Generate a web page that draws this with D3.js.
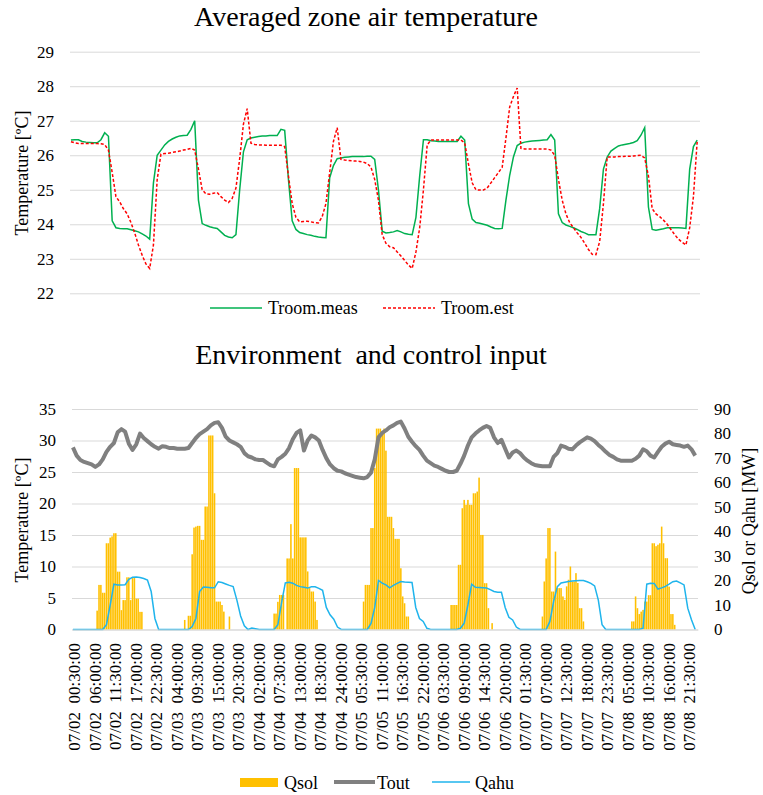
<!DOCTYPE html>
<html><head><meta charset="utf-8">
<script src="https://cdn.jsdelivr.net/npm/d3@7"></script>
<style>
body{margin:0;background:#fff}
svg text{font-family:"Liberation Serif","Times New Roman",Times,"DejaVu Serif",serif;fill:#000}
</style>
</head><body>
<svg id="c" width="763" height="795"></svg>
<script>
// ---------- DATA ----------
// category axis: 30-min steps from 07/02 00:30 to 07/08 24:00 (336 categories); labels every 11th
const tickLabels = ["07/02  00:30:00","07/02  06:00:00","07/02  11:30:00","07/02  17:00:00","07/02  22:30:00",
"07/03  04:00:00","07/03  09:30:00","07/03  15:00:00","07/03  20:30:00","07/04  02:00:00","07/04  07:30:00",
"07/04  13:00:00","07/04  18:30:00","07/04  24:00:00","07/05  05:30:00","07/05  11:00:00","07/05  16:30:00",
"07/05  22:00:00","07/06  03:30:00","07/06  09:00:00","07/06  14:30:00","07/06  20:00:00","07/07  01:30:00",
"07/07  07:00:00","07/07  12:30:00","07/07  18:00:00","07/07  23:30:00","07/08  05:00:00","07/08  10:30:00",
"07/08  16:00:00","07/08  21:30:00"];
const nCategories = 336;

// hourly readings (one value every 2nd category)
const troomMeas = [
26.44,26.45,26.45,26.40,26.38,26.37,26.36,26.36,26.45,26.65,26.55,24.10,23.90,23.88,23.87,23.87,23.84,23.81,23.78,23.72,23.66,23.57,25.20,26.00,
26.15,26.30,26.40,26.47,26.52,26.56,26.57,26.58,26.75,27.00,24.70,24.02,23.97,23.93,23.90,23.88,23.78,23.68,23.63,23.61,23.70,25.00,26.10,26.45,
26.50,26.52,26.54,26.56,26.56,26.57,26.57,26.57,26.75,26.72,25.30,24.10,23.85,23.76,23.73,23.70,23.68,23.65,23.63,23.62,23.61,25.35,25.70,25.90,
25.92,25.94,25.95,25.96,25.96,25.96,25.96,25.97,25.97,25.88,25.00,23.80,23.75,23.76,23.78,23.82,23.78,23.73,23.71,23.70,24.20,25.40,26.45,26.45,
26.42,26.41,26.40,26.40,26.40,26.40,26.40,26.40,26.55,26.44,24.60,24.15,24.05,24.03,24.00,23.97,23.92,23.88,23.87,23.88,24.70,25.42,25.95,26.28,
26.35,26.38,26.40,26.41,26.42,26.43,26.44,26.45,26.60,26.44,24.30,24.05,23.98,23.94,23.90,23.85,23.79,23.75,23.70,23.70,23.70,24.46,25.60,25.95,
26.12,26.20,26.27,26.30,26.32,26.34,26.37,26.42,26.58,26.80,24.50,23.85,23.83,23.85,23.87,23.90,23.90,23.90,23.90,23.89,23.88,25.60,26.25,26.44];
const troomEst = [
26.39,26.36,26.34,26.34,26.34,26.34,26.34,26.34,26.33,26.31,26.15,25.50,24.80,24.65,24.45,24.30,24.05,23.75,23.40,23.10,22.85,22.72,23.40,25.30,
26.03,26.05,26.06,26.08,26.10,26.12,26.15,26.17,26.20,26.15,25.60,25.00,24.88,24.87,24.90,24.92,24.80,24.70,24.63,24.75,25.05,25.90,26.90,27.35,
26.35,26.31,26.30,26.30,26.29,26.29,26.29,26.29,26.29,26.25,25.40,24.60,24.20,24.07,24.08,24.09,24.07,24.05,24.04,24.22,24.60,25.50,26.40,26.80,
25.88,25.86,25.85,25.84,25.83,25.82,25.80,25.76,25.66,25.30,24.70,23.70,23.45,23.35,23.32,23.20,23.08,22.95,22.82,22.72,23.20,23.90,25.00,26.30,
26.44,26.44,26.44,26.44,26.44,26.44,26.44,26.44,26.44,26.36,25.75,25.20,25.00,24.99,24.99,25.05,25.20,25.35,25.50,25.65,26.50,27.40,27.70,27.95,
26.20,26.18,26.18,26.18,26.18,26.18,26.18,26.18,26.15,26.00,25.30,24.70,24.30,24.05,23.90,23.75,23.62,23.45,23.27,23.13,23.12,23.50,24.60,25.95,
25.95,25.95,25.96,25.96,25.97,25.97,25.98,25.99,26.00,25.92,25.40,24.45,24.30,24.22,24.12,24.00,23.85,23.70,23.57,23.48,23.40,23.90,24.80,26.40];
const tout = [
28.9,27.6,26.9,26.6,26.4,26.2,25.8,26.2,27.0,28.2,29.0,29.6,31.3,31.8,31.4,29.5,28.5,29.4,31.1,30.4,29.9,29.4,29.0,28.7,
29.1,29.0,28.8,28.8,28.7,28.7,28.7,28.8,29.6,30.4,31.0,31.4,31.8,32.4,32.8,32.9,32.0,30.6,30.0,29.7,29.4,29.0,28.0,27.5,
27.3,27.0,26.9,26.9,26.5,26.1,25.9,27.0,27.4,27.9,28.8,30.2,31.2,31.6,28.4,30.0,30.8,30.5,30.0,28.5,27.2,26.2,25.6,25.2,
25.1,24.8,24.6,24.4,24.2,24.1,24.0,24.2,24.9,27.0,30.5,31.2,31.6,32.1,32.4,32.8,33.0,31.9,30.6,29.8,29.1,28.5,27.6,26.8,
26.4,26.0,25.8,25.5,25.2,25.0,25.0,25.2,26.3,27.6,29.2,30.5,31.1,31.6,32.0,32.3,32.0,30.5,29.6,30.1,28.7,27.3,28.1,28.4,
28.0,27.3,26.8,26.4,26.1,26.0,25.9,25.9,25.9,27.4,28.0,29.2,29.0,28.7,28.6,29.2,29.7,30.1,30.5,30.3,29.9,29.3,28.8,28.2,
27.7,27.4,27.0,26.8,26.8,26.8,26.8,27.1,27.6,28.6,28.3,27.6,27.3,28.2,29.0,29.5,29.8,29.4,29.3,29.2,29.0,29.2,28.6,27.6];
const qahu = [
0,0,0,0,0,0,0,0,0,2.0,10.0,18.5,18.2,18.2,18.3,20.5,21.3,21.4,21.2,20.8,20.2,15.5,4.5,0,
0,0,0,0,0,0,0,0,1.2,4.5,15.5,17.3,17.2,17.0,17.0,19.5,19.2,18.6,18.0,17.5,12.0,5.5,1.5,0,
0.6,0.3,0,0,0,0,0,2.0,11.0,19.0,19.3,18.9,18.0,17.5,17.2,16.9,17.4,17.4,16.8,16.0,9.0,6.0,4.2,1.0,
0,0,0,0,0,0,0,0,2.5,9.0,20.0,18.9,18.2,17.0,18.0,18.8,19.6,19.4,19.3,19.2,9.0,4.5,3.3,0.5,
0,0,0,0,0,0,0,0,0.5,2.6,10.0,18.5,17.2,17.1,17.0,16.9,16.3,15.5,15.2,15.2,9.0,5.0,3.9,1.0,
0,0,0,0,0,0,0,0,3.3,11.4,17.5,19.0,19.3,19.6,19.8,19.9,20.0,20.0,19.5,18.8,17.8,12.0,2.0,0,
0,0,0,0,0,0,0,0,0,0.5,18.5,18.9,18.8,16.5,17.0,17.6,18.5,19.5,19.8,19.0,18.2,8.7,4.0,0];
// half-hourly solar gains [MW], one row per day (48 values)
const qsol = [
0,0,0,0,0,0,0,0,0,0,0,0,0,7.7,18.2,18.2,15,15,35.2,35.2,37.5,38,39.3,39.3,23.6,23.6,7.9,12,12,21.3,21.3,12,21,21,12.6,12.6,7.2,7.2,0,0,0,0,0,0,0,0,0,0,
0,0,0,0,0,0,0,0,0,0,0,0,3.9,0,5.6,5.6,30.7,41.6,42,42.3,42.3,36.6,36.6,50.2,50.2,79.2,79.2,79.2,55.6,11.4,11.4,11.4,10,7.3,0,0,5.3,0,0,0,0,0,0,0,0,0,0,0,
0,0,0,0,0,0,0,0,0,0,0,0,6.5,6.5,11.3,14.1,14.1,14.1,0,29,29,43,29,65.9,65.9,65.9,37.6,37.6,37.6,37.6,23.7,16.9,15.5,15.5,11.4,3.9,0,0,0,0,0,0,0,0,0,0,0,0,
0,0,0,0,0,0,0,0,0,0,0,0,11.4,18.2,18.2,18.2,41.4,41.4,65.9,82,82,82,79.5,82,73,46,46,46,41.4,37,37,37,25,13.5,10.7,5.3,5.3,0,0,0,0,0,0,0,0,0,0,0,
0,0,0,0,0,0,0,0,0,0,0,10,10,10,10,26.4,26.4,49.5,52.9,50.9,52.9,50.9,50.9,55.6,55.6,56.3,62,38.6,38.6,18.9,18.9,8.7,0,2.6,0,0,0,0,0,0,0,0,0,0,0,0,0,0,
0,0,0,0,0,0,0,0,0,0,0,0,5.3,19.6,29,41.4,41.4,15.5,15.5,31.8,16.9,16.9,16.9,13.5,12.1,17.6,20.3,25.7,19.6,19.6,23,19,8.7,8.7,3.3,0,0,0,0,0,0,0,0,0,0,0,0,0,
0,0,0,0,0,0,0,0,0,0,0,0,3.3,3.3,13.5,8.7,6.3,7.3,8,11.4,11.4,14,14,35.2,35.2,34,34.6,35.2,42,35.2,29.1,29.1,17.5,6.3,6.3,1.9,0,0,0,0,0,0,0,0,0,0,0,0];

// ---------- DRAW ----------
const svg = d3.select("#c");
const cats = d3.range(nCategories);
const styleAxis = g => {
  g.select(".domain").remove();
  g.selectAll(".tick line").attr("stroke","#d9d9d9").attr("stroke-width",1);
  g.selectAll("text").attr("font-family",null).attr("font-size",17).attr("fill","#000");
};
const txt = (x,y,s,size,anchor) => svg.append("text").attr("x",x).attr("y",y)
  .attr("text-anchor",anchor||"start").attr("font-size",size).style("white-space","pre").text(s);

// Top chart
const xT = d3.scaleBand().domain(cats).range([70,700]);
const yT = d3.scaleLinear().domain([22,29]).range([293.3,51.7]);
svg.append("g").attr("transform","translate(70,0)")
  .call(d3.axisLeft(yT).tickValues(d3.range(22,30)).tickSize(-630).tickPadding(16).tickFormat(d3.format("d")))
  .call(styleAxis);
const lineT = d3.line().x((d,k)=>xT(2*k)+xT.bandwidth()/2).y(d=>yT(d));
svg.append("path").datum(troomMeas).attr("d",lineT).attr("fill","none").attr("stroke","#00b050").attr("stroke-width",1.5);
svg.append("path").datum(troomEst).attr("d",lineT).attr("fill","none").attr("stroke","#ff0000").attr("stroke-width",1.5).attr("stroke-dasharray","3,2");

txt(366,26,"Averaged zone air temperature",28,"middle");
txt(0,0,"Temperature [ºC]",18,"middle").attr("transform","translate(28,173) rotate(-90)");
// top legend
svg.append("line").attr("x1",210).attr("x2",262).attr("y1",308).attr("y2",308).attr("stroke","#00b050").attr("stroke-width",1.5);
txt(268,314,"Troom.meas",18);
svg.append("line").attr("x1",383).attr("x2",435).attr("y1",308).attr("y2",308).attr("stroke","#ff0000").attr("stroke-width",1.5).attr("stroke-dasharray","3,2");
txt(441,314,"Troom.est",18);

// Bottom chart
const xB = d3.scaleBand().domain(cats).range([72,698]);
const yL = d3.scaleLinear().domain([0,35]).range([629.5,409]);
const yR = d3.scaleLinear().domain([0,90]).range([629.5,409]);
svg.append("g").attr("transform","translate(72,0)")
  .call(d3.axisLeft(yL).tickValues(d3.range(0,36,5)).tickSize(-626).tickPadding(16))
  .call(styleAxis);
svg.append("g").attr("transform","translate(698,0)")
  .call(d3.axisRight(yR).tickValues(d3.range(0,91,10)).tickSize(0).tickPadding(16))
  .call(styleAxis);
const bw = xB.bandwidth();
svg.append("g").selectAll("rect").data(qsol).join("rect")
  .attr("x",(d,i)=>xB(i)+bw*0.08).attr("width",bw*0.84)
  .attr("y",d=>yR(d)).attr("height",d=>yR(0)-yR(d)).attr("fill","#ffc000");
const lineB = (ys) => d3.line().x((d,k)=>xB(2*k)+bw/2).y(d=>ys(d));
svg.append("path").datum(tout).attr("d",lineB(yL)).attr("fill","none").attr("stroke","#808080").attr("stroke-width",4).attr("stroke-linejoin","round");
svg.append("path").datum(qahu).attr("d",lineB(yR)).attr("fill","none").attr("stroke","#1fb4ec").attr("stroke-width",1.5);

const xa = svg.append("g").attr("transform","translate(0,629.5)")
  .call(d3.axisBottom(xB).tickValues(d3.range(0,nCategories,11)).tickFormat(i=>tickLabels[i/11]).tickSize(0));
xa.select(".domain").attr("stroke","#d9d9d9");
xa.selectAll("text").attr("font-size",17).attr("fill","#000")
  .style("white-space","pre")
  .attr("transform","rotate(-90)").attr("text-anchor","end").attr("x",-13.5).attr("y",1.5).attr("dy","0.35em");

txt(371,364,"Environment  and control input",28,"middle");
txt(0,0,"Temperature [ºC]",18,"middle").attr("transform","translate(28,520) rotate(-90)");
txt(0,0,"Qsol or Qahu [MW]",18,"middle").attr("transform","translate(755,521) rotate(-90)");

// bottom legend
svg.append("rect").attr("x",240).attr("y",778).attr("width",38).attr("height",9).attr("fill","#ffc000");
txt(284,789,"Qsol",18);
svg.append("line").attr("x1",334).attr("x2",375).attr("y1",782).attr("y2",782).attr("stroke","#808080").attr("stroke-width",4);
txt(377,789,"Tout",18);
svg.append("line").attr("x1",432).attr("x2",470).attr("y1",782).attr("y2",782).attr("stroke","#1fb4ec").attr("stroke-width",1.5);
txt(475,789,"Qahu",18);
svg.selectAll("g").attr("font-family",null);
</script>
</body></html>
